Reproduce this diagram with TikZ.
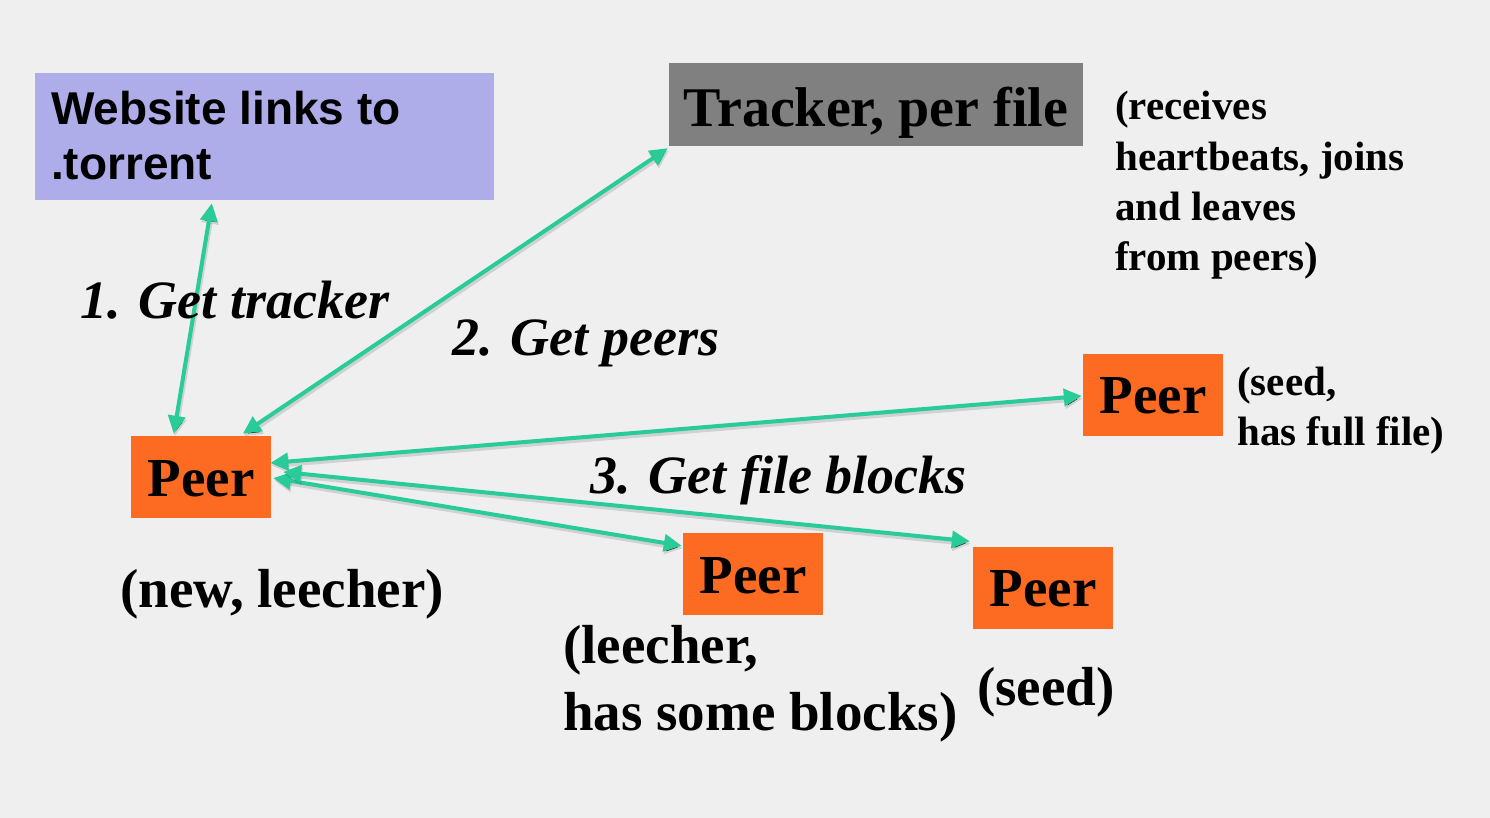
\documentclass[tikz,border=0pt]{standalone}
\usepackage{fontspec}
\setmainfont{Liberation Serif}
\setsansfont{Liberation Sans}
\usetikzlibrary{arrows.meta,calc}
\definecolor{bg}{HTML}{EFEFEF}
\definecolor{webfill}{HTML}{AEADE9}
\definecolor{trfill}{HTML}{808080}
\definecolor{peerfill}{HTML}{FD6A22}
\definecolor{conncol}{HTML}{29CC98}
\tikzset{
  peerbox/.style={fill=peerfill, minimum width=140pt, minimum height=82pt, inner sep=0pt,
    text height=38pt, text depth=0pt,
    font=\fontsize{55}{55}\selectfont\bfseries},
  conn/.style={draw=conncol, line width=4pt,
    {Triangle[length=18pt,width=17pt]}-{Triangle[length=18pt,width=17pt]},
    preaction={draw=black, draw opacity=0.12, line width=5pt, transform canvas={shift={(1pt,-2.5pt)}}}},
  lbl/.style={font=\fontsize{55}{55}\selectfont\bfseries, anchor=base west, inner sep=0pt},
  steplbl/.style={font=\fontsize{54}{54}\selectfont\bfseries\itshape, anchor=base west, inner sep=0pt},
  small/.style={font=\fontsize{41}{50}\selectfont\bfseries, anchor=base west, inner sep=0pt, align=left},
}
\begin{document}
\begin{tikzpicture}[x=1pt,y=-1pt]
\fill[bg] (0,0) rectangle (1490,818);
\useasboundingbox (0,0) rectangle (1490,818);

% boxes
\node[fill=webfill, minimum width=459pt, minimum height=127pt, inner sep=0pt] (web) at (264.5,136.5) {};
\node[font=\sffamily\fontsize{46}{55}\selectfont\bfseries, anchor=base west, inner sep=0pt, align=left] (webtxt) at (51,180) {Website links to\\.torrent};
\node[fill=trfill, minimum width=414pt, minimum height=83pt, inner sep=0pt,
  text height=44pt, text depth=0pt,
  font=\fontsize{56}{56}\selectfont\bfseries] (tr) at (876,104.5) {Tracker, per file};
\node[small] (trnote) at (1115,270) {(receives\\heartbeats, joins\\and leaves\\from peers)};

\node[peerbox] (p0) at (201,477) {Peer};
\node[peerbox] (p1) at (1153,394.5) {Peer};
\node[peerbox] (p2) at (753,574) {Peer};
\node[peerbox] (p3) at (1043,587.5) {Peer};

% labels
\node[lbl] (l0) at (120,607) {(new, leecher)};
\node[small] (l1) at (1237,445) {(seed,\\has full file)};
\node[lbl, align=left, font=\fontsize{55}{67}\selectfont\bfseries] (l2) at (563,730) {(leecher,\\has some blocks)};
\node[lbl] (l3) at (977,705) {(seed)};

% connectors
\draw[conn] ([xshift=177pt,yshift=-3pt]web.south west) -- ([xshift=43pt,yshift=2pt]p0.north west);
\draw[conn] ([xshift=-1pt,yshift=-2pt]tr.south west) -- ([xshift=112pt,yshift=2pt]p0.north west);
\draw[conn] ([xshift=-1pt,yshift=-1.5pt]p1.west) -- ([xshift=-1pt,yshift=14pt]p0.east);
\draw[conn] ([xshift=-1pt,yshift=-13pt]p2.north west) -- ([xshift=2pt,yshift=-1pt]p0.east);
\draw[conn] ([xshift=-3pt,yshift=5pt]p3.north west) -- ([xshift=12pt,yshift=5pt]p0.east);

% step labels
\node[steplbl] (s1) at (80,318) {1. Get tracker};
\node[steplbl] (s2) at (452,355) {2. Get peers};
\node[steplbl] (s3) at (590,493) {3. Get file blocks};
\end{tikzpicture}
\end{document}
